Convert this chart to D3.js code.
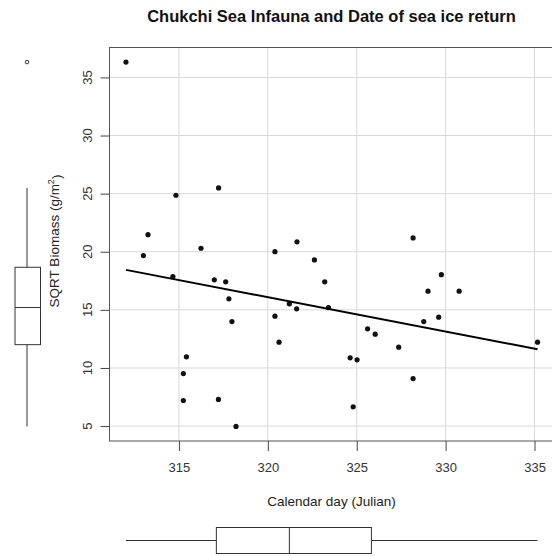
<!DOCTYPE html>
<html>
<head>
<meta charset="utf-8">
<script src="https://cdn.jsdelivr.net/npm/d3@7"></script>
<style>
  html, body { margin: 0; padding: 0; background: #ffffff; }
  svg { display: block; font-family: "Liberation Sans", Arial, sans-serif; }
</style>
</head>
<body>
<svg id="chart" width="552" height="556"></svg>
<script>
// Date of sea ice return (Julian day) for each station
const iceDay = [
  312.02, 313.26, 313.00, 314.66, 314.83, 316.24, 316.99, 317.23, 317.63, 317.81,
  317.98, 315.42, 315.25, 315.25, 317.22, 318.21, 320.40, 321.64, 322.62, 323.20,
  321.21, 321.62, 323.41, 320.40, 320.63, 324.63, 325.02, 324.80, 325.61, 326.04,
  327.36, 328.17, 328.17, 328.77, 329.01, 329.61, 329.76, 330.76, 335.17
];
// Square-root infaunal biomass (g/m²) for the same stations
const sqrtBiomass = [
  36.32, 21.47, 19.67, 17.86, 24.86, 20.30, 17.58, 25.49, 17.41, 15.95,
  13.99, 10.96, 9.52, 7.20, 7.29, 4.97, 20.01, 20.85, 19.30, 17.41,
  15.52, 15.09, 15.20, 14.46, 12.22, 10.87, 10.70, 6.66, 13.37, 12.91,
  11.79, 21.19, 9.09, 13.99, 16.61, 14.37, 18.03, 16.61, 12.22
];
const xTicks = [315, 320, 325, 330, 335];
const yTicks = [5, 10, 15, 20, 25, 30, 35];

const titleText = "Chukchi Sea Infauna and Date of sea ice return";
const xLabel = "Calendar day (Julian)";

const svg = d3.select("#chart");
const plot = { left: 109.5, right: 554, top: 47.5, bottom: 441 };

// Axis ranges padded by 4% of the data span on each side
function padded(vals) {
  const [lo, hi] = d3.extent(vals);
  const p = (hi - lo) * 0.04;
  return [lo - p, hi + p];
}
const x = d3.scaleLinear().domain(padded(iceDay)).range([plot.left, plot.right]);
const y = d3.scaleLinear().domain(padded(sqrtBiomass)).range([plot.bottom, plot.top]);

// Tukey five-number summary
function fivenum(vals) {
  const s = vals.slice().sort(d3.ascending);
  const n = s.length;
  const n4 = Math.floor((n + 3) / 2) / 2;
  const idx = [1, n4, (n + 1) / 2, n + 1 - n4, n];
  return idx.map(i => 0.5 * (s[Math.floor(i) - 1] + s[Math.ceil(i) - 1]));
}
function boxStats(vals) {
  const f = fivenum(vals);
  const iqr = f[3] - f[1];
  const inside = vals.filter(v => v >= f[1] - 1.5 * iqr && v <= f[3] + 1.5 * iqr);
  return {
    lo: d3.min(inside), q1: f[1], med: f[2], q3: f[3], hi: d3.max(inside),
    out: vals.filter(v => v < f[1] - 1.5 * iqr || v > f[3] + 1.5 * iqr)
  };
}

// Grid
const grid = svg.append("g").attr("stroke", "#d8d8d8").attr("stroke-width", 1);
grid.selectAll(".gx").data(xTicks).join("line")
  .attr("x1", d => x(d)).attr("x2", d => x(d))
  .attr("y1", plot.top).attr("y2", plot.bottom);
grid.selectAll(".gy").data(yTicks).join("line")
  .attr("x1", plot.left).attr("x2", plot.right)
  .attr("y1", d => y(d)).attr("y2", d => y(d));

// Plot frame
svg.append("rect")
  .attr("x", plot.left).attr("y", plot.top)
  .attr("width", plot.right - plot.left).attr("height", plot.bottom - plot.top)
  .attr("fill", "none").attr("stroke", "#555").attr("stroke-width", 1);

// Axes (tick marks from d3; y labels drawn rotated below)
const xAxis = svg.append("g").attr("transform", `translate(0,${plot.bottom})`)
  .call(d3.axisBottom(x).tickValues(xTicks).tickSize(10).tickPadding(12).tickFormat(d3.format("d")));
const yAxis = svg.append("g").attr("transform", `translate(${plot.left},0)`)
  .call(d3.axisLeft(y).tickValues(yTicks).tickSize(9).tickFormat(""));
[xAxis, yAxis].forEach(a => {
  a.select(".domain").remove();
  a.selectAll(".tick line").attr("stroke", "#444");
});
xAxis.selectAll(".tick text").attr("fill", "#333").style("font-size", "13px")
  .style("font-family", "'Liberation Sans', Arial, sans-serif");
yAxis.selectAll(".tick text").remove();
svg.append("g").selectAll("text").data(yTicks).join("text")
  .attr("transform", d => `translate(92,${y(d)}) rotate(-90)`)
  .attr("text-anchor", "middle").attr("fill", "#333").style("font-size", "13px")
  .text(d3.format("d"));

// Points
svg.append("g").selectAll("circle").data(iceDay).join("circle")
  .attr("cx", d => x(d)).attr("cy", (d, i) => y(sqrtBiomass[i]))
  .attr("r", 2.6).attr("fill", "#111");

// Least-squares regression line
const mx = d3.mean(iceDay), my = d3.mean(sqrtBiomass);
const sxy = d3.sum(iceDay, (d, i) => (d - mx) * (sqrtBiomass[i] - my));
const sxx = d3.sum(iceDay, d => (d - mx) * (d - mx));
const slope = sxy / sxx, intercept = my - slope * mx;
const [xMin, xMax] = d3.extent(iceDay);
svg.append("line")
  .attr("x1", x(xMin)).attr("y1", y(intercept + slope * xMin))
  .attr("x2", x(xMax)).attr("y2", y(intercept + slope * xMax))
  .attr("stroke", "#000").attr("stroke-width", 2);

// Title and axis labels
svg.append("text").attr("x", 331.5).attr("y", 21.5).attr("text-anchor", "middle")
  .style("font-size", "16.5px").style("font-weight", "bold").attr("fill", "#111").text(titleText);
svg.append("text").attr("x", 331.5).attr("y", 506).attr("text-anchor", "middle")
  .style("font-size", "13.5px").attr("fill", "#222").text(xLabel);
const yl = svg.append("text").attr("transform", "translate(58.5,241) rotate(-90)")
  .attr("text-anchor", "middle").style("font-size", "13.5px").attr("fill", "#222");
yl.append("tspan").text("SQRT Biomass (g/m");
yl.append("tspan").attr("dy", "-0.45em").style("font-size", "9px").text("2");
yl.append("tspan").attr("dy", "0.45em").text(")");

// Marginal boxplot of biomass (left)
const by = boxStats(sqrtBiomass);
const bl = svg.append("g").attr("stroke", "#333").attr("stroke-width", 1).attr("fill", "none");
const bxc = 27, bx0 = 15, bx1 = 40.5;
bl.append("line").attr("x1", bxc).attr("x2", bxc).attr("y1", y(by.hi)).attr("y2", y(by.q3));
bl.append("line").attr("x1", bxc).attr("x2", bxc).attr("y1", y(by.q1)).attr("y2", y(by.lo));
bl.append("rect").attr("x", bx0).attr("width", bx1 - bx0)
  .attr("y", y(by.q3)).attr("height", y(by.q1) - y(by.q3));
bl.append("line").attr("x1", bx0).attr("x2", bx1).attr("y1", y(by.med)).attr("y2", y(by.med));
bl.selectAll(".o").data(by.out).join("circle")
  .attr("cx", bxc).attr("cy", d => y(d)).attr("r", 1.8);

// Marginal boxplot of ice-return day (bottom)
const bxs = boxStats(iceDay);
const bb = svg.append("g").attr("stroke", "#333").attr("stroke-width", 1).attr("fill", "none");
const byc = 540.5, by0 = 527.5, by1 = 553.5;
bb.append("line").attr("y1", byc).attr("y2", byc).attr("x1", x(bxs.lo)).attr("x2", x(bxs.q1));
bb.append("line").attr("y1", byc).attr("y2", byc).attr("x1", x(bxs.q3)).attr("x2", x(bxs.hi));
bb.append("rect").attr("y", by0).attr("height", by1 - by0)
  .attr("x", x(bxs.q1)).attr("width", x(bxs.q3) - x(bxs.q1));
bb.append("line").attr("y1", by0).attr("y2", by1).attr("x1", x(bxs.med)).attr("x2", x(bxs.med));
bb.selectAll(".o").data(bxs.out).join("circle")
  .attr("cy", byc).attr("cx", d => x(d)).attr("r", 1.8);
</script>
</body>
</html>
